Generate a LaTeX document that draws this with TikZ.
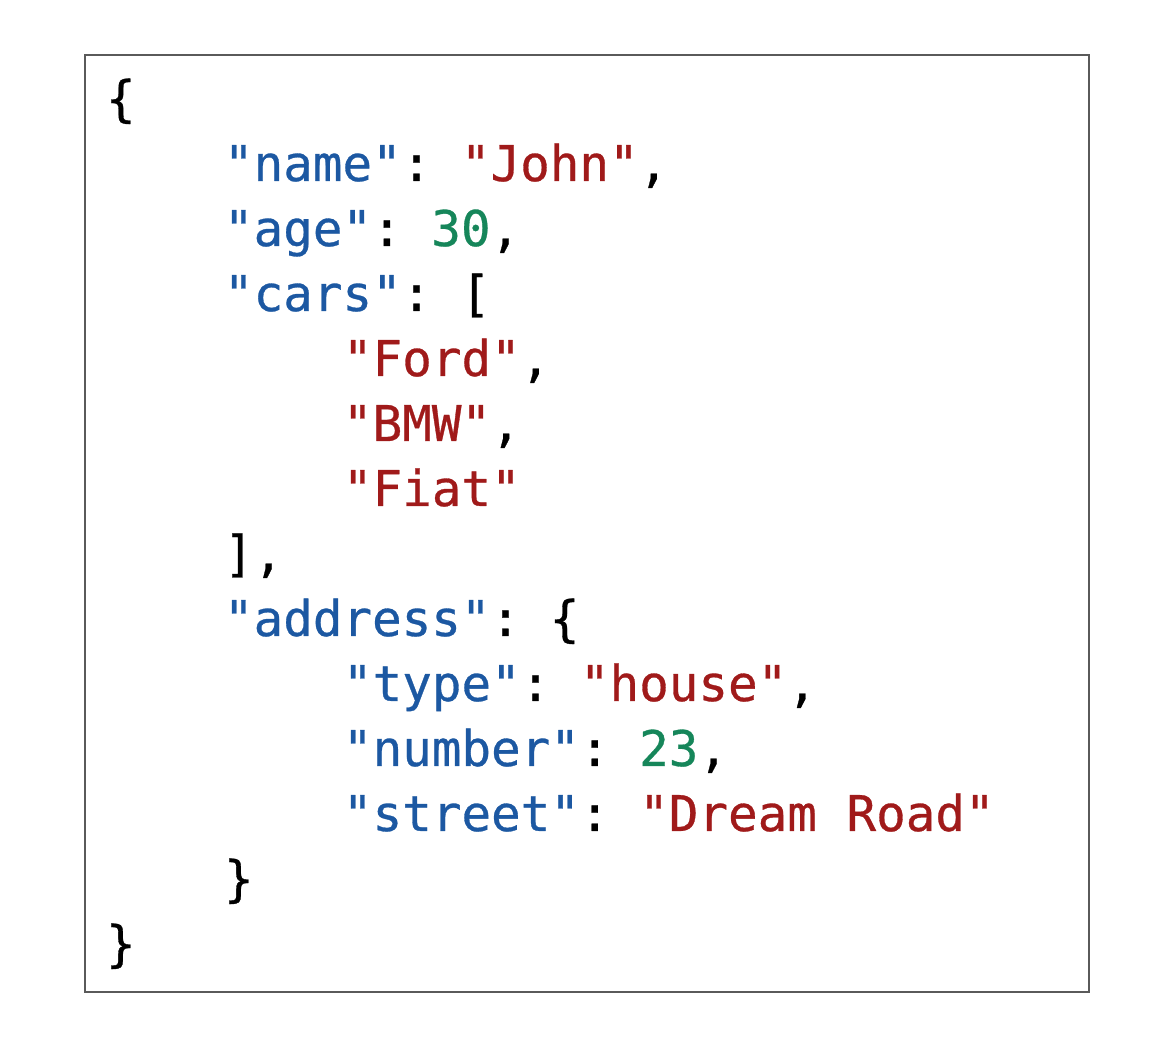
\documentclass[tikz,border=0pt]{standalone}
\usepackage{fontspec}
\setmonofont[FakeBold=0.6]{DejaVu Sans Mono}
\definecolor{jkeyc}{RGB}{28,88,162}
\definecolor{jstrc}{RGB}{160,26,26}
\definecolor{jnumc}{RGB}{22,134,90}
\definecolor{jpunc}{RGB}{0,0,0}
\definecolor{boxc}{RGB}{90,90,90}
\newcommand{\jkey}[1]{\textcolor{jkeyc}{#1}}
\newcommand{\jstr}[1]{\textcolor{jstrc}{#1}}
\newcommand{\jnum}[1]{\textcolor{jnumc}{#1}}
\begin{document}
\begin{tikzpicture}[x=0.5pt,y=-0.5pt,
  codeline/.style={anchor=base west,inner sep=0pt,outer sep=0pt,text=jpunc,
    font=\ttfamily\fontsize{24.6pt}{30pt}\selectfont},
  frame/.style={draw=boxc,line width=1pt}]
\useasboundingbox (0,0) rectangle (1152,1058);
\fill[white] (0,0) rectangle (1152,1058);
\draw[frame] (85,55) rectangle (1089,992);
\node[codeline] (l0)  at (106,116) {\{};
\node[codeline] (l1)  at (224,181) {\jkey{"name"}: \jstr{"John"},};
\node[codeline] (l2)  at (224,246) {\jkey{"age"}: \jnum{30},};
\node[codeline] (l3)  at (224,311) {\jkey{"cars"}: [};
\node[codeline] (l4)  at (343,376) {\jstr{"Ford"},};
\node[codeline] (l5)  at (343,441) {\jstr{"BMW"},};
\node[codeline] (l6)  at (343,506) {\jstr{"Fiat"}};
\node[codeline] (l7)  at (224,571) {],};
\node[codeline] (l8)  at (224,636) {\jkey{"address"}: \{};
\node[codeline] (l9)  at (343,701) {\jkey{"type"}: \jstr{"house"},};
\node[codeline] (l10) at (343,766) {\jkey{"number"}: \jnum{23},};
\node[codeline] (l11) at (343,831) {\jkey{"street"}: \jstr{"Dream Road"}};
\node[codeline] (l12) at (224,896) {\}};
\node[codeline] (l13) at (106,961) {\}};
\end{tikzpicture}
\end{document}
